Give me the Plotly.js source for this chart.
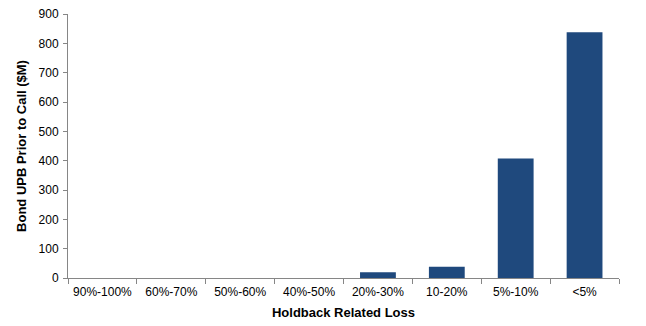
<!DOCTYPE html>
<html>
<head>
<meta charset="utf-8">
<script src="https://cdn.plot.ly/plotly-3.0.1.min.js"></script>
<style>html,body{margin:0;padding:0;background:#fff;}#chart{width:646px;height:326px;}</style>
</head>
<body>
<div id="chart"></div>
<script>
var categories = ["90%-100%", "60%-70%", "50%-60%", "40%-50%", "20%-30%", "10-20%", "5%-10%", "<5%"];
var values = [0, 0, 0, 0, 20, 38, 407, 838];
var yTicks = [0, 100, 200, 300, 400, 500, 600, 700, 800, 900];

var trace = {
  type: "bar",
  x: categories,
  y: values,
  marker: {color: "#1F497D"},
  hoverinfo: "x+y"
};

var layout = {
  width: 646,
  height: 326,
  margin: {l: 68, r: 27, t: 14, b: 48},
  paper_bgcolor: "#fff",
  plot_bgcolor: "#fff",
  bargap: 0.48,
  showlegend: false,
  font: {family: "Liberation Sans, Arial, sans-serif", size: 12, color: "#000"},
  xaxis: {
    type: "category",
    showline: true,
    linecolor: "#868686",
    linewidth: 1,
    ticks: "outside",
    tickson: "boundaries",
    ticklen: 5,
    tickcolor: "#868686",
    ticklabelstandoff: 3,
    showgrid: false,
    zeroline: false,
    tickfont: {size: 12, color: "#000"},
    title: {text: "<b>Holdback Related Loss</b>", font: {size: 13, color: "#000"}, standoff: 9}
  },
  yaxis: {
    range: [0, 900],
    tickvals: yTicks,
    showline: true,
    linecolor: "#868686",
    linewidth: 1,
    ticks: "outside",
    ticklen: 4,
    tickcolor: "#868686",
    ticklabelstandoff: 2,
    showgrid: false,
    zeroline: false,
    tickfont: {size: 12, color: "#000"},
    title: {text: "<b>Bond UPB Prior to Call ($M)</b>", font: {size: 13, color: "#000"}, standoff: 9}
  }
};

Plotly.newPlot("chart", [trace], layout, {displayModeBar: false, staticPlot: true});
</script>
</body>
</html>
